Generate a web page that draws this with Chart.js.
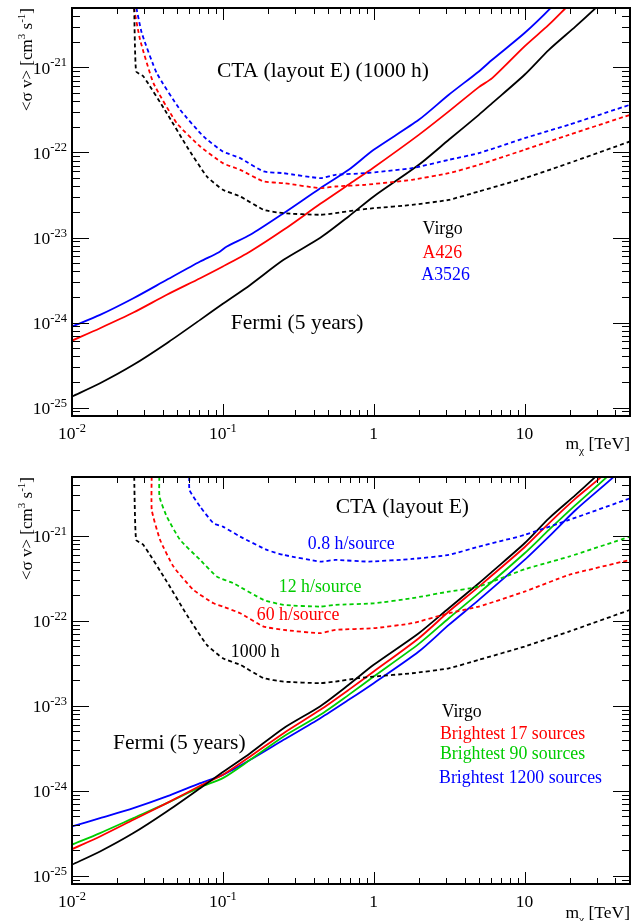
<!DOCTYPE html>
<html><head><meta charset="utf-8">
<script src="https://cdn.jsdelivr.net/npm/chart.js@4.4.0/dist/chart.umd.min.js"></script>
<style>
html,body{margin:0;padding:0;background:#fff;overflow:hidden;}
#w1{position:absolute;left:0;top:0;width:636px;height:460px;}
#w2{position:absolute;left:0;top:460px;width:636px;height:461px;}
</style></head><body>
<div id="w1"><canvas id="c1"></canvas></div>
<div id="w2"><canvas id="c2"></canvas></div>
<script>
// ---------- axis ticks ----------
const xTickValues = [0.01, 0.1, 1, 10];
const xTickLabels = ['10^-2', '10^-1', '1', '10'];
const yTickValues = [1e-25, 1e-24, 1e-23, 1e-22, 1e-21];
const yTickLabels = ['10^-25', '10^-24', '10^-23', '10^-22', '10^-21'];

// ---------- Fermi (5 years), Virgo (both panels) ----------
const massFermiVirgo = [0.01, 0.01534, 0.02553, 0.0425, 0.07073, 0.1, 0.1518, 0.2527, 0.4426, 0.6823, 1, 1.99, 3.146, 4.977, 6.101, 10, 14.5, 21.81, 29.59, 32.77];
const svFermiVirgo   = [1.35e-25, 1.93e-25, 3.18e-25, 5.71e-25, 1.075e-24, 1.66e-24, 2.77e-24, 5.46e-24, 9.91e-24, 1.77e-23, 3.04e-23, 7.16e-23, 1.41e-22, 2.77e-22, 3.80e-22, 8.20e-22, 1.61e-21, 3.04e-21, 4.99e-21, 5.98e-21];

// ---------- top panel: Fermi A426, A3526 ----------
const massFermiA426 = [0.01, 0.01534, 0.02553, 0.0425, 0.07073, 0.1, 0.1518, 0.2527, 0.4426, 0.6823, 1, 1.99, 3.146, 4.977, 6.101, 10, 14.5, 18.72, 20.72];
const svFermiA426   = [6.14e-25, 8.58e-25, 1.31e-24, 2.12e-24, 3.32e-24, 4.56e-24, 6.84e-24, 1.23e-23, 2.49e-23, 4.2e-23, 6.66e-23, 1.61e-22, 3.04e-22, 5.87e-22, 7.49e-22, 1.77e-21, 3.18e-21, 4.99e-21, 5.98e-21];
const massFermiA3526 = [0.01, 0.01534, 0.02553, 0.0425, 0.07073, 0.09359, 0.1063, 0.1518, 0.2527, 0.4426, 0.6823, 1, 1.99, 3.146, 4.977, 6.101, 10, 14.88, 16.06];
const svFermiA3526   = [8.97e-25, 1.23e-24, 1.93e-24, 3.18e-24, 5.22e-24, 6.66e-24, 7.84e-24, 1.075e-23, 1.93e-23, 3.80e-23, 6.25e-23, 1.075e-22, 2.42e-22, 4.77e-22, 8.97e-22, 1.23e-21, 2.54e-21, 4.99e-21, 5.98e-21];

// ---------- CTA 1000 h, Virgo (both panels) ----------
const massCtaVirgo = [0.02579, 0.0266, 0.02976, 0.0425, 0.0577, 0.07832, 0.1, 0.1303, 0.1862, 0.2527, 0.4426, 0.5566, 0.795, 1, 1.797, 3.146, 4.977, 10, 19.69, 50];
const svCtaVirgo   = [5.98e-21, 8.97e-22, 7.84e-22, 2.90e-22, 1.177e-22, 5.22e-23, 3.64e-23, 3.04e-23, 2.12e-23, 1.93e-23, 1.85e-23, 1.93e-23, 2.12e-23, 2.21e-23, 2.42e-23, 2.77e-23, 3.48e-23, 4.99e-23, 7.49e-23, 1.347e-22];

// ---------- top panel: CTA 1000 h A426, A3526 ----------
const massCtaA426 = [0.02527, 0.02827, 0.03466, 0.0495, 0.07073, 0.1, 0.1303, 0.1862, 0.2527, 0.4426, 0.5566, 0.88, 1.797, 3.146, 4.977, 10, 19.69, 50];
const svCtaA426   = [5.98e-21, 2.12e-21, 6.54e-22, 2.21e-22, 1.177e-22, 7.49e-23, 6.25e-23, 4.56e-23, 4.36e-23, 3.80e-23, 3.98e-23, 4.17e-23, 4.77e-23, 5.71e-23, 7.16e-23, 1.075e-22, 1.61e-22, 2.77e-22];
const massCtaA3526 = [0.02619, 0.02901, 0.03646, 0.05209, 0.07439, 0.1, 0.1303, 0.1862, 0.2527, 0.4426, 0.5566, 0.88, 1.797, 3.146, 4.977, 10, 19.69, 50];
const svCtaA3526   = [5.98e-21, 2.54e-21, 8.58e-22, 3.18e-22, 1.542e-22, 1.027e-22, 8.58e-23, 5.98e-23, 5.71e-23, 4.99e-23, 5.46e-23, 5.71e-23, 6.54e-23, 8.20e-23, 9.82e-23, 1.474e-22, 2.12e-22, 3.64e-22];

// ---------- bottom panel: Fermi stacked ----------
const massFermi17 = [0.01, 0.01534, 0.02553, 0.0425, 0.07073, 0.1, 0.1518, 0.2527, 0.4426, 0.6823, 1, 1.99, 3.146, 4.977, 10, 14.5, 21.81, 32.44, 35.37];
const svFermi17   = [2.06e-25, 2.90e-25, 4.56e-25, 7.16e-25, 1.145e-24, 1.542e-24, 2.535e-24, 4.77e-24, 8.97e-24, 1.542e-23, 2.535e-23, 6.25e-23, 1.288e-22, 2.535e-22, 7.36e-22, 1.409e-21, 2.77e-21, 4.99e-21, 5.98e-21];
const massFermi90 = [0.01, 0.01534, 0.02553, 0.0425, 0.07073, 0.1, 0.1518, 0.2527, 0.4426, 0.6823, 1, 1.99, 3.146, 4.977, 10, 14.5, 21.81, 35.37, 38.78];
const svFermi90   = [2.32e-25, 3.18e-25, 4.77e-25, 7.16e-25, 1.104e-24, 1.409e-24, 2.316e-24, 4.36e-24, 7.84e-24, 1.347e-23, 2.21e-23, 5.36e-23, 1.075e-22, 2.12e-22, 6.25e-22, 1.177e-21, 2.316e-21, 4.99e-21, 5.98e-21];
const massFermi1200 = [0.01, 0.01534, 0.02553, 0.0425, 0.07073, 0.1, 0.1518, 0.2527, 0.4426, 0.6823, 1, 1.99, 3.146, 4.977, 10, 14.5, 21.81, 39.17, 42.7];
const svFermi1200   = [3.80e-25, 4.77e-25, 6.25e-25, 8.58e-25, 1.23e-24, 1.542e-24, 2.316e-24, 3.98e-24, 7.16e-24, 1.177e-23, 1.85e-23, 4.36e-23, 8.97e-23, 1.767e-22, 5.22e-22, 9.82e-22, 2.02e-21, 4.99e-21, 5.98e-21];

// ---------- bottom panel: CTA survey ----------
const massCta60h = [0.03379, 0.03379, 0.03838, 0.04705, 0.06388, 0.08672, 0.1, 0.1303, 0.1862, 0.2527, 0.4426, 0.5566, 1, 1.797, 3.146, 4.977, 10, 19.69, 50];
const svCta60h   = [5.98e-21, 2.02e-21, 8.97e-22, 4.36e-22, 2.316e-22, 1.61e-22, 1.474e-22, 1.23e-22, 8.58e-23, 7.84e-23, 7.16e-23, 7.84e-23, 8.20e-23, 9.39e-23, 1.23e-22, 1.474e-22, 2.21e-22, 3.48e-22, 5.22e-22];
const massCta12h = [0.03799, 0.03799, 0.0425, 0.05209, 0.07073, 0.09126, 0.1177, 0.1862, 0.2527, 0.4426, 0.5566, 1, 1.797, 3.146, 4.977, 10, 19.69, 50];
const svCta12h   = [5.98e-21, 2.90e-21, 1.688e-21, 8.97e-22, 5.22e-22, 3.32e-22, 2.77e-22, 1.767e-22, 1.542e-22, 1.474e-22, 1.542e-22, 1.61e-22, 1.85e-22, 2.21e-22, 2.535e-22, 4.05e-22, 5.71e-22, 9.82e-22];
const massCta08h = [0.0601, 0.0601, 0.07073, 0.08672, 0.1, 0.1303, 0.1959, 0.2527, 0.4426, 0.5566, 0.9265, 1.797, 3.146, 4.977, 10, 19.69, 50];
const svCta08h   = [5.98e-21, 3.48e-21, 2.21e-21, 1.409e-21, 1.288e-21, 9.82e-22, 6.84e-22, 5.98e-22, 4.99e-22, 5.22e-22, 4.99e-22, 5.36e-22, 5.98e-22, 7.49e-22, 1.027e-21, 1.542e-21, 2.77e-21];

// ---------- text labels ----------
const topLabels = [
  {text: 'CTA (layout E) (1000 h)', x: 0.0913, y: 8.9e-22, color: '#000', size: 21.5},
  {text: 'Fermi (5 years)', x: 0.113, y: 9.84e-25, color: '#000', size: 21.5},
  {text: 'Virgo', x: 2.11, y: 1.26e-23, color: '#000', size: 17.8},
  {text: 'A426', x: 2.11, y: 6.56e-24, color: '#ff0000', size: 17.8},
  {text: 'A3526', x: 2.07, y: 3.61e-24, color: '#0000ff', size: 17.8}
];
const bottomLabels = [
  {text: 'CTA (layout E)', x: 0.56, y: 2.19e-21, color: '#000', size: 21.5},
  {text: '0.8 h/source', x: 0.366, y: 8.05e-22, color: '#0000ff', size: 17.8},
  {text: '12 h/source', x: 0.235, y: 2.51e-22, color: '#00cc00', size: 17.8},
  {text: '60 h/source', x: 0.168, y: 1.17e-22, color: '#ff0000', size: 17.8},
  {text: '1000 h', x: 0.113, y: 4.3e-23, color: '#000', size: 17.8},
  {text: 'Fermi (5 years)', x: 0.0187, y: 3.65e-24, color: '#000', size: 21.5},
  {text: 'Virgo', x: 2.82, y: 8.45e-24, color: '#000', size: 17.8},
  {text: 'Brightest 17 sources', x: 2.75, y: 4.66e-24, color: '#ff0000', size: 17.8},
  {text: 'Brightest 90 sources', x: 2.75, y: 2.71e-24, color: '#00cc00', size: 17.8},
  {text: 'Brightest 1200 sources', x: 2.71, y: 1.41e-24, color: '#0000ff', size: 17.8}
];
const yTitle = [{t: '<\u03C3 v> [cm'}, {t: '3', sup: true}, {t: ' s'}, {t: '-1', sup: true}, {t: ']'}];
const xTitle = [{t: 'm'}, {t: '\u03C7', sub: true}, {t: ' [TeV]'}];

const FONT = '"Liberation Serif", "Times New Roman", serif';
const RED = '#ff0000', GREEN = '#00cc00', BLUE = '#0000ff', BLACK = '#000000';

function pts(xs, ys) { return xs.map((x, i) => ({x: x, y: ys[i]})); }
function ds(label, xs, ys, color, dashed) {
  return {label: label, data: pts(xs, ys), borderColor: color, backgroundColor: color,
    borderWidth: 1.8, borderDash: dashed ? [4, 3] : [], pointRadius: 0,
    tension: dashed ? 0.15 : 0.25, fill: false};
}

function richText(ctx, segs, x, y, align, size, color) {
  ctx.save();
  ctx.fillStyle = color; ctx.textBaseline = 'alphabetic'; ctx.textAlign = 'left';
  let w = 0;
  const parts = segs.map(s => {
    const sz = (s.sup || s.sub) ? size * 0.65 : size;
    ctx.font = sz + 'px ' + FONT;
    const mw = ctx.measureText(s.t).width;
    w += mw;
    return {t: s.t, sz: sz, mw: mw, dy: s.sup ? -size * 0.42 : (s.sub ? size * 0.28 : 0)};
  });
  let cx = align === 'right' ? x - w : (align === 'center' ? x - w / 2 : x);
  parts.forEach(p => { ctx.font = p.sz + 'px ' + FONT; ctx.fillText(p.t, cx, y + p.dy); cx += p.mw; });
  ctx.restore();
}

// tick label "10^-2": base + raised exponent
function tickLabel(ctx, label, x, y, align) {
  const parts = label.split('^');
  const base = parts[0], exp = parts[1] || '';
  ctx.font = '17.5px ' + FONT; const wb = ctx.measureText(base).width;
  ctx.font = '12.5px ' + FONT; const we = exp ? ctx.measureText(exp).width : 0;
  const w = wb + we;
  const sx = align === 'right' ? x - w : x - w / 2;
  ctx.fillStyle = '#000'; ctx.textAlign = 'left'; ctx.textBaseline = 'alphabetic';
  ctx.font = '17.5px ' + FONT; ctx.fillText(base, sx, y);
  if (exp) { ctx.font = '12.5px ' + FONT; ctx.fillText(exp, sx + wb, y - 7.5); }
}

const rootFrame = {
  id: 'rootFrame',
  afterDatasetsDraw(chart, args, opts) {
    const ctx = chart.ctx, a = chart.chartArea, xs = chart.scales.x, ys = chart.scales.y;
    ctx.save();
    ctx.strokeStyle = '#000'; ctx.lineWidth = 1;
    function line(x1, y1, x2, y2) { ctx.beginPath(); ctx.moveTo(x1, y1); ctx.lineTo(x2, y2); ctx.stroke(); }
    for (let d = -3; d <= 2; d++) for (let k = 1; k <= 9; k++) {
      const v = k * Math.pow(10, d);
      if (v < xs.min || v > xs.max) continue;
      const px = Math.round(xs.getPixelForValue(v)) + 0.5;
      const L = k === 1 ? 12 : 6;
      line(px, a.bottom, px, a.bottom - L);
      line(px, a.top, px, a.top + L);
    }
    for (let d = -27; d <= -20; d++) for (let k = 1; k <= 9; k++) {
      const v = k * Math.pow(10, d);
      if (v < ys.min || v > ys.max) continue;
      const py = Math.round(ys.getPixelForValue(v)) + 0.5;
      const L = k === 1 ? 17 : 8;
      line(a.left, py, a.left + L, py);
      line(a.right, py, a.right - L, py);
    }
    ctx.lineWidth = 2;
    ctx.strokeRect(a.left, a.top, a.right - a.left, a.bottom - a.top);
    // tick labels at the library's tick positions
    xs.ticks.forEach((t, i) => tickLabel(ctx, xTickLabels[i], xs.getPixelForValue(t.value), a.bottom + 23, 'center'));
    ys.ticks.forEach((t, i) => tickLabel(ctx, yTickLabels[i], a.left - 5, ys.getPixelForValue(t.value) + 6.5, 'right'));
    // labels
    ctx.textAlign = 'left'; ctx.textBaseline = 'middle';
    opts.labels.forEach(t => {
      ctx.font = t.size + 'px ' + FONT; ctx.fillStyle = t.color;
      ctx.fillText(t.text, xs.getPixelForValue(t.x), ys.getPixelForValue(t.y));
    });
    // axis titles
    richText(ctx, xTitle, a.right, a.bottom + opts.xTitleOffset, 'right', 17.5, '#000');
    ctx.save();
    ctx.translate(32, a.top);
    ctx.rotate(-Math.PI / 2);
    richText(ctx, yTitle, 0, 0, 'right', 17, '#000');
    ctx.restore();
    ctx.restore();
  }
};

function makeChart(id, datasets, yMin, yMax, padTop, xAxisH, labels, xTitleOffset) {
  return new Chart(document.getElementById(id), {
    type: 'line',
    data: {datasets: datasets},
    options: {
      responsive: true, maintainAspectRatio: false, animation: false,
      layout: {padding: {top: padTop, right: 6, bottom: 0, left: 0}},
      plugins: {legend: {display: false}, tooltip: {enabled: false}, rootFrame: {labels: labels, xTitleOffset: xTitleOffset}},
      scales: {
        x: {type: 'logarithmic', min: 0.01, max: 50,
          afterBuildTicks: s => { s.ticks = xTickValues.map(v => ({value: v})); },
          afterFit: s => { s.height = xAxisH; s.paddingLeft = 0; s.paddingRight = 0; },
          ticks: {display: false, callback: (v, i) => xTickLabels[i], autoSkip: false},
          grid: {display: false, drawTicks: false}, border: {display: false}},
        y: {type: 'logarithmic', min: yMin, max: yMax,
          afterBuildTicks: s => { s.ticks = yTickValues.map(v => ({value: v})); },
          afterFit: s => { s.width = 72; s.paddingTop = 0; s.paddingBottom = 0; },
          ticks: {display: false, callback: (v, i) => yTickLabels[i], autoSkip: false},
          grid: {display: false, drawTicks: false}, border: {display: false}}
      }
    },
    plugins: [rootFrame]
  });
}

makeChart('c1', [
  ds('CTA Virgo 1000 h', massCtaVirgo, svCtaVirgo, BLACK, true),
  ds('CTA A426 1000 h', massCtaA426, svCtaA426, RED, true),
  ds('CTA A3526 1000 h', massCtaA3526, svCtaA3526, BLUE, true),
  ds('Fermi Virgo', massFermiVirgo, svFermiVirgo, BLACK, false),
  ds('Fermi A426', massFermiA426, svFermiA426, RED, false),
  ds('Fermi A3526', massFermiA3526, svFermiA3526, BLUE, false)
], 7.96e-26, 5.0e-21, 8, 44, topLabels, 33);

makeChart('c2', [
  ds('CTA Virgo 1000 h', massCtaVirgo, svCtaVirgo, BLACK, true),
  ds('CTA 60 h/source', massCta60h, svCta60h, RED, true),
  ds('CTA 12 h/source', massCta12h, svCta12h, GREEN, true),
  ds('CTA 0.8 h/source', massCta08h, svCta08h, BLUE, true),
  ds('Fermi Virgo', massFermiVirgo, svFermiVirgo, BLACK, false),
  ds('Fermi 17 sources', massFermi17, svFermi17, RED, false),
  ds('Fermi 90 sources', massFermi90, svFermi90, GREEN, false),
  ds('Fermi 1200 sources', massFermi1200, svFermi1200, BLUE, false)
], 8.05e-26, 4.94e-21, 17, 37, bottomLabels, 34);
</script>
</body></html>
